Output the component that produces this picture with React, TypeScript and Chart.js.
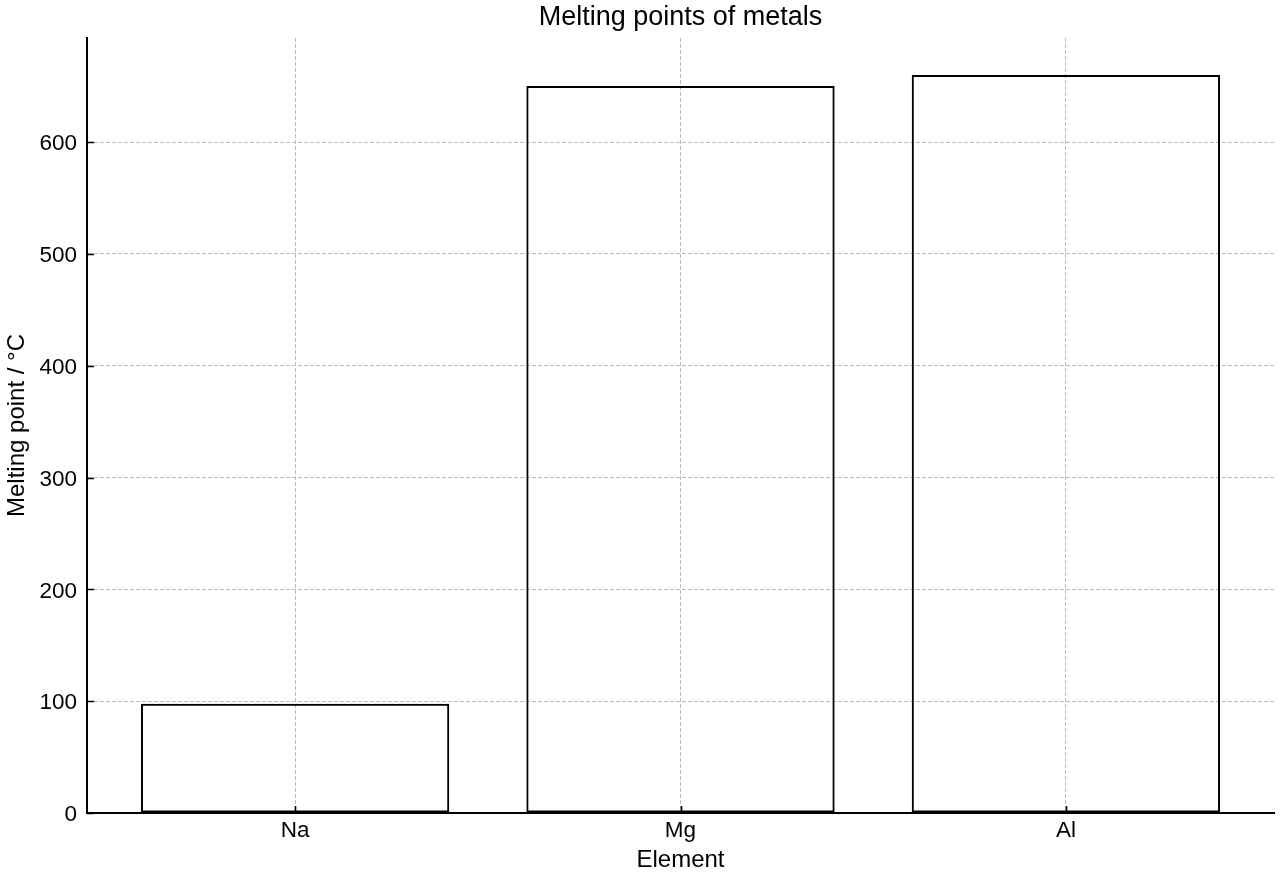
import { useEffect, useRef } from "react";
import { Chart, registerables } from "chart.js";
Chart.register(...registerables);

// data
const elements = ["Na", "Mg", "Al"];
const meltingPoints = [97.8, 650, 660];
const yTicks = [0, 100, 200, 300, 400, 500, 600];
const chartTitle = "Melting points of metals";

const FONT = "'Liberation Sans', Arial, Helvetica, sans-serif";

// matplotlib-style ticks that point into the plot area
const inwardTicks = {
  id: "inwardTicks",
  afterDraw(chart: any) {
    const { ctx, chartArea, scales } = chart;
    ctx.save();
    ctx.strokeStyle = "#000";
    ctx.lineWidth = 1.6;
    ctx.beginPath();
    scales.y.ticks.forEach((t: any) => {
      const y = Math.round(scales.y.getPixelForValue(t.value)) + 0.5;
      ctx.moveTo(chartArea.left, y);
      ctx.lineTo(chartArea.left + 7, y);
    });
    scales.x.ticks.forEach((t: any) => {
      const x = Math.round(scales.x.getPixelForValue(t.value)) + 0.5;
      ctx.moveTo(x, chartArea.bottom);
      ctx.lineTo(x, chartArea.bottom - 7);
    });
    ctx.stroke();
    ctx.restore();
  },
};

// title centred over the plot area rather than the whole canvas
const axesTitle = {
  id: "axesTitle",
  afterDraw(chart: any) {
    const { ctx, chartArea } = chart;
    ctx.save();
    ctx.fillStyle = "#000";
    ctx.font = `27px ${FONT}`;
    ctx.textAlign = "center";
    ctx.textBaseline = "middle";
    ctx.fillText(chartTitle, (chartArea.left + chartArea.right) / 2, 18);
    ctx.restore();
  },
};

export default function App() {
  const chartRef = useRef<HTMLCanvasElement>(null);
  const chartInstance = useRef<Chart | null>(null);

  useEffect(() => {
    document.body.style.margin = "0";
    if (!chartRef.current) return;
    if (chartInstance.current) chartInstance.current.destroy();

    chartInstance.current = new Chart(chartRef.current, {
      type: "bar",
      data: {
        datasets: [{
          label: "Melting point",
          data: meltingPoints.map((v, i) => ({ x: i, y: v })),
          backgroundColor: "rgba(0,0,0,0)",
          borderColor: "#000",
          borderWidth: 2,
          borderSkipped: false,
          categoryPercentage: 1,
          barPercentage: 0.8,
        }]
      },
      plugins: [inwardTicks, axesTitle],
      options: {
        animation: false,
        responsive: true,
        maintainAspectRatio: false,
        layout: { padding: { left: 0, right: 6, top: 38, bottom: 0 } },
        plugins: {
          legend: { display: false },
          tooltip: { enabled: false },
          title: { display: false },
        },
        scales: {
          x: {
            type: "linear",
            min: -0.54,
            max: 2.54,
            offset: false,
            afterBuildTicks: (scale: any) => {
              scale.ticks = elements.map((_, i) => ({ value: i }));
            },
            afterFit: (scale: any) => { scale.height = 67; },
            ticks: {
              color: "#000",
              padding: 4,
              font: { family: FONT, size: 22.5 },
              callback: (v: any) => elements[v] ?? "",
            },
            grid: { color: "#bbbbbb", lineWidth: 1, drawTicks: false, offset: false },
            border: { color: "#000", width: 2, dash: [4, 2] },
            title: {
              display: true,
              text: "Element",
              color: "#000",
              font: { family: FONT, size: 24 },
              padding: { top: 0, bottom: 5 },
            },
          },
          y: {
            min: 0,
            max: 693,
            afterBuildTicks: (scale: any) => {
              scale.ticks = yTicks.map((v) => ({ value: v }));
            },
            afterFit: (scale: any) => { scale.width = 87; },
            ticks: {
              color: "#000",
              padding: 10,
              labelOffset: 2,
              includeBounds: false,
              font: { family: FONT, size: 22.5 },
            },
            grid: { color: "#bbbbbb", lineWidth: 1, drawTicks: false },
            border: { color: "#000", width: 2, dash: [4, 2] },
            title: {
              display: true,
              text: "Melting point / °C",
              color: "#000",
              font: { family: FONT, size: 24 },
              padding: { top: 3, bottom: 0 },
            },
          },
        },
      },
    } as any);

    return () => { chartInstance.current?.destroy(); };
  }, []);

  return (
    <div style={{ width: "1280px", height: "880px", position: "relative" }}>
      <canvas ref={chartRef}></canvas>
    </div>
  );
}
